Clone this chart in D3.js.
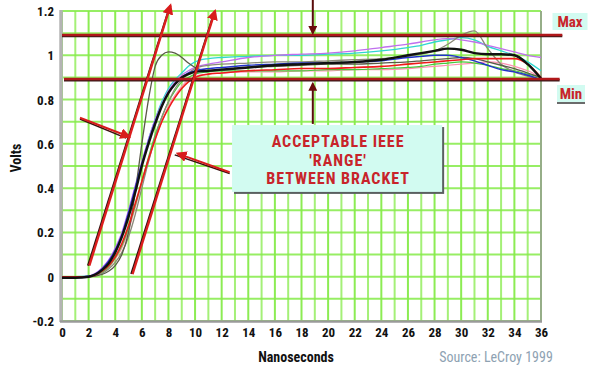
<!DOCTYPE html>
<html>
<head>
<meta charset="utf-8">
<script src="https://cdn.jsdelivr.net/npm/d3@7"></script>
<style>
  html, body { margin: 0; padding: 0; background: #fff; }
  svg { display: block; }
  .cond { font-family: "Liberation Sans Narrow", "Roboto Condensed", "DejaVu Sans Condensed", "Liberation Sans", sans-serif; font-stretch: condensed; }
</style>
</head>
<body>
<svg id="chart" width="589" height="370"></svg>
<script>
// Sample times (ns) shared by every captured waveform
const time = [0, 1, 2, 2.5, 3, 3.5, 4, 4.5, 5, 5.5, 6, 6.5, 7, 7.5, 8, 8.5, 9, 9.5, 10, 11,
              12, 14, 16, 18, 20, 22, 24, 26, 27, 28, 29, 30, 31, 32, 33, 34, 35, 36];

// Measured voltages for each waveform (V)
const pinkTrace = [0, 0, 0, 0.005, 0.02, 0.04, 0.08, 0.13, 0.21, 0.31, 0.42, 0.52, 0.62, 0.7, 0.77, 0.82, 0.86, 0.89, 0.905, 0.915,
                   0.92, 0.925, 0.925, 0.93, 0.93, 0.935, 0.935, 0.94, 0.945, 0.95, 0.955, 0.96, 0.965, 0.97, 0.965, 0.95, 0.93, 0.9];
const greenTrace = [0, 0, 0, 0.006, 0.02, 0.045, 0.085, 0.14, 0.22, 0.32, 0.43, 0.54, 0.64, 0.72, 0.79, 0.84, 0.88, 0.9, 0.915, 0.925,
                    0.93, 0.93, 0.93, 0.93, 0.935, 0.935, 0.94, 0.945, 0.95, 0.96, 0.965, 0.97, 0.965, 0.955, 0.94, 0.93, 0.915, 0.9];
const cyanTrace = [0, 0, 0.002, 0.012, 0.035, 0.07, 0.12, 0.19, 0.29, 0.4, 0.51, 0.62, 0.71, 0.79, 0.85, 0.89, 0.92, 0.95, 0.97, 0.985,
                   0.99, 0.995, 1.0, 1.0, 1.005, 1.01, 1.02, 1.035, 1.045, 1.06, 1.07, 1.08, 1.07, 1.04, 1.02, 1.0, 0.97, 0.93];
const magentaTrace = [0, 0, 0.003, 0.015, 0.04, 0.075, 0.13, 0.2, 0.3, 0.41, 0.52, 0.62, 0.71, 0.78, 0.84, 0.88, 0.91, 0.93, 0.945, 0.96,
                      0.97, 0.99, 1.0, 1.005, 1.01, 1.02, 1.035, 1.05, 1.06, 1.07, 1.075, 1.07, 1.06, 1.045, 1.03, 1.015, 1.0, 0.99];
const grayTrace = [0, 0, 0, 0.005, 0.015, 0.035, 0.065, 0.11, 0.18, 0.28, 0.4, 0.52, 0.63, 0.72, 0.79, 0.85, 0.89, 0.92, 0.94, 0.955,
                   0.96, 0.965, 0.97, 0.97, 0.975, 0.98, 0.985, 0.995, 1.005, 1.02, 1.05, 1.09, 1.11, 1.03, 0.96, 0.925, 0.905, 0.89];
const overshootTrace = [0, 0, 0, 0.003, 0.01, 0.025, 0.05, 0.1, 0.2, 0.38, 0.6, 0.8, 0.95, 1.0, 1.015, 1.01, 0.99, 0.965, 0.945, 0.93,
                        0.935, 0.945, 0.95, 0.955, 0.96, 0.96, 0.965, 0.97, 0.975, 0.98, 0.985, 0.99, 0.985, 0.97, 0.955, 0.94, 0.92, 0.9];
const blueTrace = [-0.003, -0.003, 0.002, 0.012, 0.035, 0.07, 0.12, 0.19, 0.29, 0.4, 0.51, 0.61, 0.7, 0.77, 0.83, 0.87, 0.9, 0.92, 0.93, 0.94,
                   0.945, 0.955, 0.96, 0.965, 0.965, 0.97, 0.975, 0.99, 0.995, 1.0, 1.0, 0.99, 0.975, 0.955, 0.935, 0.925, 0.91, 0.89];
const redTrace = [0, 0, 0, 0.008, 0.025, 0.05, 0.09, 0.15, 0.23, 0.33, 0.43, 0.53, 0.62, 0.7, 0.76, 0.81, 0.85, 0.88, 0.9, 0.915,
                  0.92, 0.93, 0.935, 0.94, 0.94, 0.945, 0.95, 0.96, 0.965, 0.97, 0.975, 0.98, 0.985, 0.985, 0.985, 0.985, 0.96, 0.9];
const blackTrace = [-0.005, -0.005, 0, 0.01, 0.03, 0.06, 0.11, 0.18, 0.27, 0.38, 0.5, 0.6, 0.69, 0.77, 0.83, 0.87, 0.9, 0.915, 0.925, 0.93,
                    0.935, 0.945, 0.955, 0.96, 0.965, 0.97, 0.98, 1.0, 1.01, 1.02, 1.03, 1.025, 1.01, 1.005, 1.005, 1.0, 0.96, 0.895];

// Tick labels
const xTicks = [0, 2, 4, 6, 8, 10, 12, 14, 16, 18, 20, 22, 24, 26, 28, 30, 32, 34, 36];
const yTicks = [-0.2, 0, 0.2, 0.4, 0.6, 0.8, 1, 1.2];
const yTickLabels = ["-0.2", "0", "0.2", "0.4", "0.6", "0.8", "1", "1.2"];

// IEEE amplitude limits (V)
const maxLimit = 1.092;
const minLimit = 0.893;

// Rise-time bracket (two slanted lines) and the arrows pointing at them, in ns / V
const bracketLines = [
  { x1: 2.05, y1: 0.05, x2: 8.15, y2: 1.225 },
  { x1: 5.3, y1: 0.012, x2: 11.5, y2: 1.2 }
];
const pointerArrows = [
  { x1: 1.35, y1: 0.718, x2: 5.05, y2: 0.632 },
  { x1: 12.6, y1: 0.472, x2: 8.7, y2: 0.556 }
];
const calloutLines = ["ACCEPTABLE IEEE", "'RANGE'", "BETWEEN BRACKET"];

const series = [
  { name: "pink", values: pinkTrace, color: "#ff8fb0", width: 1.2 },
  { name: "green", values: greenTrace, color: "#46c83c", width: 1.2 },
  { name: "cyan", values: cyanTrace, color: "#2fd6d0", width: 1.3 },
  { name: "magenta", values: magentaTrace, color: "#c070ee", width: 1.3 },
  { name: "gray", values: grayTrace, color: "#8a8a78", width: 1.3 },
  { name: "overshoot", values: overshootTrace, color: "#5a5a48", width: 1.3 },
  { name: "blue", values: blueTrace, color: "#2233cc", width: 1.4 },
  { name: "red", values: redTrace, color: "#ee1a1a", width: 1.6 },
  { name: "black", values: blackTrace, color: "#111111", width: 2.4 }
];

const svg = d3.select("#chart");
const margin = { left: 62, right: 48, top: 11, bottom: 49 };
const W = 589, H = 370;

const x = d3.scaleLinear().domain([0, 36]).range([margin.left, W - margin.right]);
const y = d3.scaleLinear().domain([-0.2, 1.2]).range([H - margin.bottom, margin.top]);

const defs = svg.append("defs");
function marker(id, color, size) {
  defs.append("marker")
    .attr("id", id).attr("viewBox", "0 0 10 10")
    .attr("refX", 8).attr("refY", 5)
    .attr("markerWidth", size).attr("markerHeight", size)
    .attr("markerUnits", "userSpaceOnUse")
    .attr("orient", "auto")
    .append("path").attr("d", "M0,0 L10,5 L0,10 Z").attr("fill", color);
}
marker("headRed", "#d81c1c", 11);
marker("headDark", "#6a0c0c", 9);

// Grid: a line every 1 ns and every 0.1 V
const grid = svg.append("g");
grid.selectAll("line.v").data(d3.range(0, 37, 1)).join("line")
  .attr("x1", d => x(d)).attr("x2", d => x(d))
  .attr("y1", y(1.2)).attr("y2", y(-0.2))
  .attr("stroke", "#86ec4a").attr("stroke-width", 2).attr("opacity", d => d % 2 === 0 ? 0.95 : 0.75);
grid.selectAll("line.h").data(d3.range(-0.2, 1.2001, 0.1)).join("line")
  .attr("x1", x(0)).attr("x2", x(36))
  .attr("y1", d => y(d)).attr("y2", d => y(d))
  .attr("stroke", "#86ec4a").attr("stroke-width", 2).attr("opacity", 0.85);

// Frame: grey axis bars on left / bottom, thin grey right edge
svg.append("line").attr("x1", x(36)).attr("x2", x(36)).attr("y1", y(1.2)).attr("y2", y(-0.2))
  .attr("stroke", "#9a9a9a").attr("stroke-width", 1.5);
svg.append("line").attr("x1", x(0) - 1).attr("x2", x(0) - 1).attr("y1", y(1.2) - 1).attr("y2", y(-0.2) + 1)
  .attr("stroke", "#b4b4b4").attr("stroke-width", 3.5);
svg.append("line").attr("x1", x(0) - 2).attr("x2", x(36) + 1).attr("y1", y(-0.2) + 0.5).attr("y2", y(-0.2) + 0.5)
  .attr("stroke", "#9a9a9a").attr("stroke-width", 2.5);

// Waveforms
const line = d3.line().x(d => x(d[0])).y(d => y(d[1])).curve(d3.curveMonotoneX);
svg.append("g").selectAll("path").data(series).join("path")
  .attr("d", s => line(time.map((t, i) => [t, s.values[i]])))
  .attr("fill", "none").attr("stroke", s => s.color).attr("stroke-width", s => s.width)
  .attr("stroke-linejoin", "round");

// Max / Min limit lines
function limitLine(v, x0, x1) {
  svg.append("line").attr("x1", x(x0)).attr("x2", x(x1)).attr("y1", y(v) + 1.2).attr("y2", y(v) + 1.2)
    .attr("stroke", "#3a1a1a").attr("stroke-width", 2.5);
  svg.append("line").attr("x1", x(x0)).attr("x2", x(x1)).attr("y1", y(v)).attr("y2", y(v))
    .attr("stroke", "#b0171a").attr("stroke-width", 2.5);
}
limitLine(maxLimit, 0, 37.6);
limitLine(minLimit, 0.15, 37.4);

// Slanted bracket lines with shadow
const br = svg.append("g");
bracketLines.forEach(b => {
  br.append("line").attr("x1", x(b.x1) - 1.3).attr("y1", y(b.y1)).attr("x2", x(b.x2) - 1.3).attr("y2", y(b.y2) + 3)
    .attr("stroke", "#2a1010").attr("stroke-width", 2);
  br.append("line").attr("x1", x(b.x1)).attr("y1", y(b.y1)).attr("x2", x(b.x2)).attr("y2", y(b.y2))
    .attr("stroke", "#dc1e1e").attr("stroke-width", 2.4).attr("marker-end", "url(#headRed)");
});
pointerArrows.forEach(a => {
  br.append("line").attr("x1", x(a.x1)).attr("y1", y(a.y1) + 1.3).attr("x2", x(a.x2) - 3).attr("y2", y(a.y2) + 1.3)
    .attr("stroke", "#3a1010").attr("stroke-width", 1.5);
  br.append("line").attr("x1", x(a.x1)).attr("y1", y(a.y1)).attr("x2", x(a.x2)).attr("y2", y(a.y2))
    .attr("stroke", "#d81c1c").attr("stroke-width", 2).attr("marker-end", "url(#headRed)");
});

// Vertical arrows toward the limit lines
const arrowX = 18.85;
svg.append("line").attr("x1", x(arrowX)).attr("x2", x(arrowX)).attr("y1", y(1.25)).attr("y2", y(1.1))
  .attr("stroke", "#5a0c0c").attr("stroke-width", 2).attr("marker-end", "url(#headDark)");
svg.append("line").attr("x1", x(arrowX)).attr("x2", x(arrowX)).attr("y1", y(0.69)).attr("y2", y(0.872))
  .attr("stroke", "#5a0c0c").attr("stroke-width", 2).attr("marker-end", "url(#headDark)");

// Callout box
const boxX0 = 12.78, boxX1 = 28.57, boxTop = 0.685, boxBottom = 0.383;
svg.append("rect").attr("x", x(boxX0) + 2).attr("y", y(boxTop) + 2)
  .attr("width", x(boxX1) - x(boxX0)).attr("height", y(boxBottom) - y(boxTop))
  .attr("fill", "#5a6060");
svg.append("rect").attr("x", x(boxX0)).attr("y", y(boxTop))
  .attr("width", x(boxX1) - x(boxX0)).attr("height", y(boxBottom) - y(boxTop))
  .attr("fill", "#d2fbf1");
svg.append("g").selectAll("text").data(calloutLines).join("text")
  .attr("class", "cond")
  .attr("x", (x(boxX0) + x(boxX1)) / 2 + 1)
  .attr("y", (d, i) => y(boxTop) + 22 + i * 18.5)
  .attr("text-anchor", "middle")
  .attr("font-size", 16).attr("font-weight", "bold").attr("letter-spacing", 1)
  .attr("fill", "#c8242a")
  .text(d => d);

// Max / Min tags at the right edge
function tag(label, cx, top, w, h, underline) {
  svg.append("rect").attr("x", cx - w / 2).attr("y", top).attr("width", w).attr("height", h).attr("fill", "#d2fbf1");
  svg.append("text").attr("class", "cond").attr("x", cx).attr("y", top + h - 3)
    .attr("text-anchor", "middle").attr("font-size", 15).attr("font-weight", "bold")
    .attr("fill", "#c8242a").text(label);
  if (underline) {
    svg.append("line").attr("x1", cx - w / 2).attr("x2", cx + w / 2).attr("y1", top + h + 1).attr("y2", top + h + 1)
      .attr("stroke", "#3a3a3a").attr("stroke-width", 1.5);
  }
}
tag("Max", 570, 13, 35, 17, false);
tag("Min", 571, 85, 28, 17, true);

// Axes
const xAxis = svg.append("g").attr("transform", `translate(0,${y(-0.2) + 4})`)
  .call(d3.axisBottom(x).tickValues(xTicks).tickSize(0).tickFormat(d3.format("d")));
const yAxis = svg.append("g").attr("transform", `translate(${x(0) - 5},0)`)
  .call(d3.axisLeft(y).tickValues(yTicks).tickSize(0).tickFormat((d, i) => yTickLabels[i]));
[xAxis, yAxis].forEach(g => {
  g.select(".domain").remove();
  g.selectAll("text").attr("class", "cond").attr("font-size", 13).attr("font-weight", "bold").attr("fill", "#111");
});
yAxis.selectAll("text").attr("dx", 0).attr("dy", "0.35em");

// Axis titles and source
svg.append("text").attr("class", "cond").attr("x", 296).attr("y", 362)
  .attr("text-anchor", "middle").attr("font-size", 14).attr("font-weight", "bold").attr("fill", "#111")
  .text("Nanoseconds");
svg.append("text").attr("class", "cond")
  .attr("transform", `translate(21,158) rotate(-90)`)
  .attr("text-anchor", "middle").attr("font-size", 14).attr("font-weight", "bold").attr("fill", "#111")
  .text("Volts");
svg.append("text").attr("class", "cond").attr("x", 496).attr("y", 362)
  .attr("text-anchor", "middle").attr("font-size", 14).attr("fill", "#8ea2b2")
  .text("Source: LeCroy 1999");
</script>
</body>
</html>
